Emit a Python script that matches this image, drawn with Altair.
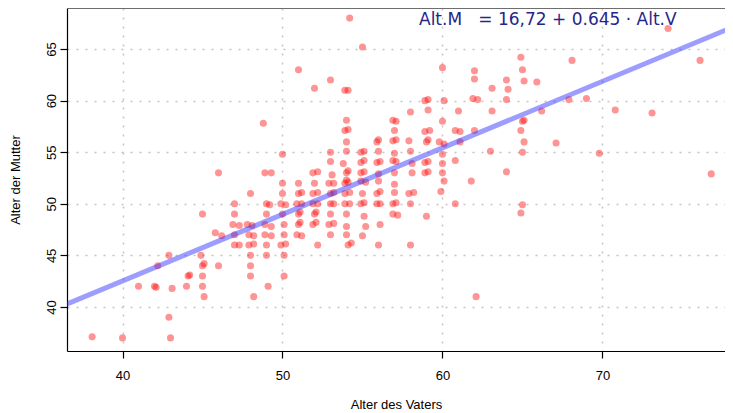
import altair as alt
import pandas as pd

father_age = [
    38.1, 40, 41, 42, 42.1, 42.2, 43, 42.9, 43.1, 42.9, 44, 44.1, 44.2,
    45, 45.1, 45, 45.1, 45, 44.9, 45, 46, 45.8, 46.2, 46,
    47, 47.3, 47, 47, 46.9, 47.3, 47,
    48, 47.8, 48.1, 47.9, 48.2, 47.9, 48.2, 48, 48, 48, 48.2,
    49, 49.2, 49, 48.9, 49.3, 48.9, 49.3, 49, 49, 49.1, 48.9, 49.3, 48.8,
    50, 50, 50, 49.9, 50.2, 50, 50.1, 50.1, 49.9, 50.2, 50.1, 50.1,
    51, 51, 51, 51.2, 50.9, 51.2, 51, 51.1, 51, 51.1, 50.9, 51.2,
    52, 51.9, 52.2, 52, 51.9, 52.2, 51.9, 52.2, 52, 52.1, 51.9, 52.1, 52.2,
    53, 53, 53, 53.1, 52.9, 53.2, 53, 53.2, 53, 53.2, 53, 52.9, 53.2, 53,
    54.2, 53.9, 54.1, 54, 53.9, 54.1, 54, 54, 53.8, 54, 54.1, 53.9, 54.1, 54,
    53.9, 54.2, 53.9, 54.2, 54, 54, 54, 54.1, 54.3,
    55, 54.9, 55.1, 54.9, 55.1, 54.9, 55.1, 54.9, 55.2, 55, 54.9, 55.1, 55.1, 55.2, 55,
    55.9, 56, 56, 55.9, 56.1, 56, 56, 55.9, 56.1, 55.9, 56.1, 56.1, 56,
    56.9, 57.1, 57, 56.9, 57.1, 57, 56.9, 57.1, 57, 57, 57, 56.9, 57.1, 56.9, 57.2,
    58, 57.9, 58, 58.1, 58.1, 57.9, 58.2, 58, 58,
    58.9, 59.1, 59.1, 58.9, 59.2, 59, 59.1, 58.9, 59.1, 58.9, 59.1, 59,
    60, 60.1, 60, 59.8, 60.1, 60, 60, 60, 60.1, 59.9,
    61, 60.8, 61.1, 61.1, 60.8, 60.8,
    62, 62, 61.9, 62.2, 62, 61.8, 62.1,
    63.1, 63.1, 63,
    64, 64.1, 64, 64,
    64.9, 65, 65.1, 65, 65.1, 64.9, 65.1, 65, 65, 64.9,
    65.9, 66.2, 67.1, 68.1, 67.9, 69, 69.8, 70.8, 73.1, 74.1, 76.1, 76.8,
]

mother_age = [
    37.1, 37, 42, 42, 41.9, 44, 37, 39, 41.8, 45, 42, 43, 43.1,
    42, 41, 44, 44.2, 43, 45, 49, 44, 47.2, 46.9, 53,
    46, 46, 50, 49, 48, 47.9, 47,
    51, 48, 47.9, 47, 46.9, 46, 46.1, 45, 44, 43, 41,
    50, 49.9, 49, 48, 47.8, 47, 46.9, 46, 45, 42, 53, 53, 57.8,
    54.8, 52, 51, 50, 49.9, 49, 48, 47, 46, 46.1, 45, 43,
    63, 52, 51, 51.1, 50, 50, 49, 49.2, 48, 48.2, 47, 46.9,
    61.2, 53, 53.1, 52, 51, 51.1, 50, 50, 49, 49.2, 48, 48.2, 46,
    62, 55, 54.1, 52.8, 52, 52, 51, 51.1, 50, 50, 49, 48, 48.1, 47,
    68, 61, 61, 58.1, 57.1, 57.2, 56, 55.1, 53.9, 53, 53.2, 52, 52.1, 52.3,
    51, 51.1, 50, 50, 49, 47.8, 47, 46, 46.2,
    65.2, 55, 55.1, 54, 54.2, 53, 53.1, 52.2, 52.1, 51, 50, 50.1, 48.8, 47.8, 46.9,
    56, 56.2, 55.1, 54, 54.1, 52.9, 52.2, 51, 51.2, 50, 50, 48, 46,
    58.1, 58, 57.1, 56.1, 56.2, 54.9, 54.2, 54.1, 53, 51.9, 51.1, 50, 50.1, 49, 48.9,
    58.9, 56.1, 55.1, 53.9, 53, 51, 51.1, 50, 46,
    60, 60.1, 59.1, 57, 57.1, 56, 56.2, 54, 54.1, 53, 53.1, 48.8,
    63.2, 60, 58, 56, 55.8, 54.8, 53.9, 53, 52.2, 51.2,
    59, 57.1, 57, 56, 54.2, 50,
    62.9, 62.1, 60.2, 60.1, 57.1, 52.2, 41,
    61.2, 59, 55.1,
    62, 61.1, 60.1, 53.1,
    64.2, 63, 61.9, 58, 58.1, 57.1, 56, 55, 49.9, 49.1,
    61.8, 59, 55.9, 63.9, 60.1, 60.2, 54.9, 59.1, 58.8, 67, 63.9, 52.9,
]

intercept = 16.72
slope = 0.645
line_x = [36.5, 78.2]
equation = ["Alt.M\u00a0\u00a0\u00a0= 16,72 + 0.645 · Alt.V"]

x_ticks = [40, 50, 60, 70]
y_ticks = [40, 45, 50, 55, 60, 65]

X_DOMAIN = [36.53, 77.66]
Y_DOMAIN = [35.73, 68.98]
W, H = 658, 343

pts = pd.DataFrame({"vater": father_age[:len(mother_age)], "mutter": mother_age[:len(father_age)]})
line_df = pd.DataFrame({"vater": line_x, "mutter": [intercept + slope * v for v in line_x]})
text_df = pd.DataFrame({"label": equation})

xscale = alt.Scale(domain=X_DOMAIN, nice=False, zero=False)
yscale = alt.Scale(domain=Y_DOMAIN, nice=False, zero=False)

FONT = "Liberation Sans"

xaxis = alt.Axis(values=x_ticks, title="Alter des Vaters", grid=True,
                 tickSize=7, labelPadding=11, titlePadding=16)
yaxis = alt.Axis(values=y_ticks, title="Alter der Mutter", grid=True,
                 tickSize=7, labelAngle=270, labelAlign="center",
                 labelBaseline="bottom", labelPadding=2, titlePadding=23)

points = alt.Chart(pts).mark_circle(size=50, color="#ff0000", opacity=0.42).encode(
    x=alt.X("vater:Q", scale=xscale, axis=xaxis),
    y=alt.Y("mutter:Q", scale=yscale, axis=yaxis),
)

reg = alt.Chart(line_df).mark_line(color="#3333ff", opacity=0.48, strokeWidth=5, clip=True).encode(
    x=alt.X("vater:Q", scale=xscale),
    y=alt.Y("mutter:Q", scale=yscale),
)

top_rule = alt.Chart(text_df).mark_rule(color="#6e6e6e", strokeWidth=2).encode(
    x=alt.value(0), x2=alt.value(W), y=alt.value(0)
)

label = alt.Chart(text_df).mark_text(
    align="left", baseline="alphabetic", font="DejaVu Sans", fontSize=17,
    fontWeight="normal", color="#26268a"
).encode(text="label:N", x=alt.value(352), y=alt.value(17))

chart = alt.layer(points, reg, top_rule, label).properties(
    width=W, height=H,
    autosize=alt.AutoSizeParams(type="none"),
    padding={"left": 59, "top": 0, "right": 0, "bottom": 60},
).configure_view(stroke=None).configure_axis(
    domainColor="#000000", domainWidth=1.2, tickColor="#000000", tickWidth=1.2,
    labelFont=FONT, labelFontSize=13, labelColor="#000000",
    titleFont=FONT, titleFontSize=13, titleColor="#000000", titleFontWeight="normal",
    gridColor="#c4c4c4", gridDash=[2, 7], gridWidth=1.5,
)

chart.save("out.html", embed_options={"renderer": "svg", "actions": False})
